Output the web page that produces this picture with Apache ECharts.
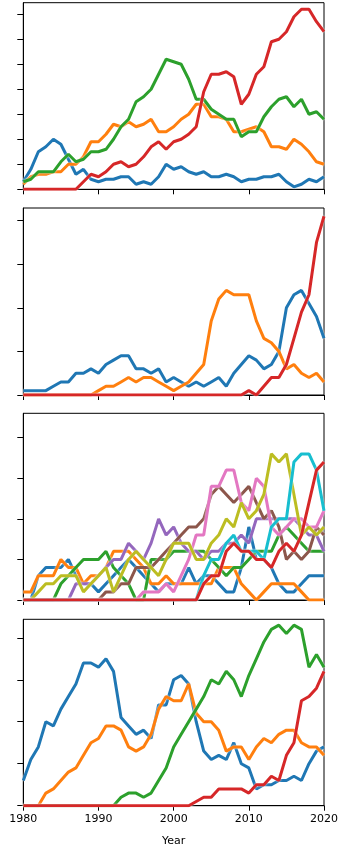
<!DOCTYPE html>
<html>
<head>
<meta charset="utf-8">
<script src="https://cdn.jsdelivr.net/npm/echarts@6/dist/echarts.min.js"></script>
<style>
  html, body { margin: 0; padding: 0; background: #fff; }
  #chart { width: 338px; height: 845px; }
</style>
</head>
<body>
<div id="chart"></div>
<script>
var years = [1980, 1981, 1982, 1983, 1984, 1985, 1986, 1987, 1988, 1989,
  1990, 1991, 1992, 1993, 1994, 1995, 1996, 1997, 1998, 1999,
  2000, 2001, 2002, 2003, 2004, 2005, 2006, 2007, 2008, 2009,
  2010, 2011, 2012, 2013, 2014, 2015, 2016, 2017, 2018, 2019, 2020]
var x_ticks = [1980, 1990, 2000, 2010, 2020]

// panel 1
var p1_blue = [3, 8, 15, 17, 20, 18, 12, 6, 8, 4, 3, 4, 4, 5, 5, 2, 3, 2, 5, 10, 8, 9, 7, 6, 7, 5, 5, 6, 5, 3, 4, 4, 5, 5, 6, 3, 1, 2, 4, 3, 5]
var p1_orange = [2, 5, 6, 6, 7, 7, 10, 10, 13, 19, 19, 22, 26, 25, 27, 25, 26, 28, 23, 23, 25, 28, 30, 34, 34, 29, 29, 28, 23, 23, 24, 25, 23, 17, 17, 16, 20, 18, 15, 11, 10]
var p1_green = [3, 4, 7, 7, 7, 11, 14, 11, 12, 15, 15, 16, 20, 25, 28, 35, 37, 40, 46, 52, 51, 50, 44, 36, 36, 32, 30, 28, 28, 21, 23, 23, 29, 33, 36, 37, 33, 36, 30, 31, 28]
var p1_red = [0, 0, 0, 0, 0, 0, 0, 0, 3, 6, 5, 7, 10, 11, 9, 10, 13, 17, 19, 16, 19, 20, 22, 25, 39, 46, 46, 47, 45, 34, 38, 46, 49, 59, 60, 63, 69, 72, 72, 67, 63]
var p1_ticks = [0, 10, 20, 30, 40, 50, 60, 70]

// panel 2
var p2_blue = [1, 1, 1, 1, 2, 3, 3, 5, 5, 6, 5, 7, 8, 9, 9, 6, 6, 5, 6, 3, 4, 3, 2, 3, 2, 3, 4, 2, 5, 7, 9, 8, 6, 7, 10, 20, 23, 24, 21, 18, 13]
var p2_orange = [0, 0, 0, 0, 0, 0, 0, 0, 0, 0, 1, 2, 2, 3, 4, 3, 4, 4, 3, 2, 1, 2, 3, 5, 7, 17, 22, 24, 23, 23, 23, 17, 13, 12, 10, 6, 7, 5, 4, 5, 3]
var p2_red = [0, 0, 0, 0, 0, 0, 0, 0, 0, 0, 0, 0, 0, 0, 0, 0, 0, 0, 0, 0, 0, 0, 0, 0, 0, 0, 0, 0, 0, 0, 1, 0, 2, 4, 4, 7, 13, 19, 23, 35, 41]
var p2_ticks = [0, 10, 20, 30, 40]

// panel 3
var p3_blue = [0, 0, 3, 4, 4, 4, 5, 3, 2, 2, 1, 2, 3, 4, 5, 4, 3, 2, 1, 2, 2, 2, 4, 2, 3, 3, 2, 1, 1, 4, 9, 5, 5, 4, 2, 1, 1, 2, 3, 3, 3]
var p3_orange = [1, 1, 3, 3, 3, 5, 4, 4, 2, 3, 3, 4, 6, 6, 6, 5, 4, 2, 2, 3, 2, 2, 2, 2, 2, 2, 4, 4, 4, 2, 1, 0, 1, 2, 2, 2, 2, 1, 0, 0, 0]
var p3_green = [0, 0, 0, 0, 0, 2, 3, 4, 5, 5, 5, 6, 4, 3, 2, 0, 0, 5, 5, 5, 6, 6, 6, 6, 6, 5, 4, 3, 4, 4, 5, 6, 6, 6, 8, 9, 8, 7, 6, 6, 6]
var p3_purple = [0, 0, 0, 0, 0, 0, 0, 2, 2, 2, 3, 4, 5, 5, 7, 6, 5, 7, 10, 8, 9, 7, 6, 6, 5, 6, 6, 7, 7, 8, 7, 10, 10, 10, 10, 10, 10, 9, 8, 8, 6]
var p3_brown = [0, 0, 0, 0, 0, 0, 0, 0, 0, 0, 0, 1, 1, 2, 2, 4, 4, 4, 5, 6, 7, 8, 9, 9, 10, 13, 14, 13, 12, 13, 14, 12, 10, 11, 9, 5, 6, 5, 6, 9, 8]
var p3_pink = [0, 0, 0, 0, 0, 0, 0, 0, 0, 0, 0, 0, 0, 0, 0, 0, 1, 1, 1, 2, 1, 3, 5, 8, 8, 14, 14, 16, 16, 12, 11, 15, 14, 9, 8, 9, 10, 10, 9, 9, 11]
var p3_olive = [0, 0, 1, 2, 2, 3, 3, 3, 1, 2, 3, 4, 1, 3, 5, 6, 5, 4, 3, 5, 7, 7, 7, 5, 5, 7, 8, 10, 9, 12, 10, 11, 13, 18, 17, 18, 13, 8, 9, 8, 9]
var p3_cyan = [0, 0, 0, 0, 0, 0, 0, 0, 0, 0, 0, 0, 0, 0, 0, 0, 0, 0, 0, 0, 0, 0, 0, 0, 3, 5, 5, 7, 8, 6, 6, 6, 5, 9, 10, 10, 17, 18, 18, 16, 11]
var p3_red = [0, 0, 0, 0, 0, 0, 0, 0, 0, 0, 0, 0, 0, 0, 0, 0, 0, 0, 0, 0, 0, 0, 0, 0, 2, 3, 3, 6, 7, 6, 6, 5, 5, 4, 6, 7, 6, 8, 12, 16, 17]
var p3_ticks = [0, 5, 10, 15, 20]

// panel 4
var p4_blue = [6, 11, 14, 20, 19, 23, 26, 29, 34, 34, 33, 35, 32, 21, 19, 17, 18, 16, 24, 24, 30, 31, 29, 20, 13, 11, 12, 11, 15, 10, 9, 4, 5, 5, 6, 6, 7, 6, 10, 13, 14]
var p4_orange = [0, 0, 0, 3, 4, 6, 8, 9, 12, 15, 16, 19, 19, 18, 14, 13, 14, 17, 23, 26, 25, 25, 29, 22, 20, 20, 18, 13, 14, 14, 11, 14, 16, 15, 17, 18, 18, 15, 14, 14, 12]
var p4_green = [0, 0, 0, 0, 0, 0, 0, 0, 0, 0, 0, 0, 0, 2, 3, 3, 2, 3, 6, 9, 14, 17, 20, 23, 26, 30, 29, 32, 30, 26, 31, 35, 39, 42, 43, 41, 43, 42, 33, 36, 33]
var p4_red = [0, 0, 0, 0, 0, 0, 0, 0, 0, 0, 0, 0, 0, 0, 0, 0, 0, 0, 0, 0, 0, 0, 0, 1, 2, 2, 4, 4, 4, 4, 3, 5, 5, 7, 6, 12, 15, 25, 26, 28, 32]
var p4_ticks = [0, 10, 20, 30, 40]

var C = {
  blue: '#1f77b4', orange: '#ff7f0e', green: '#2ca02c', red: '#d62728',
  purple: '#9467bd', brown: '#8c564b', pink: '#e377c2', olive: '#bcbd22', cyan: '#17becf'
}

var panels = [
  { top: 2.7, height: 186.6, max: 74.6, ticks: p1_ticks,
    lines: [[p1_blue, C.blue], [p1_orange, C.orange], [p1_green, C.green], [p1_red, C.red]] },
  { top: 208, height: 187, max: 42.9, ticks: p2_ticks,
    lines: [[p2_blue, C.blue], [p2_orange, C.orange], [p2_red, C.red]] },
  { top: 413.3, height: 186.7, max: 23.0, ticks: p3_ticks,
    lines: [[p3_blue, C.blue], [p3_orange, C.orange], [p3_green, C.green], [p3_purple, C.purple],
      [p3_brown, C.brown], [p3_pink, C.pink], [p3_olive, C.olive], [p3_cyan, C.cyan], [p3_red, C.red]] },
  { top: 619.3, height: 186.4, max: 44.4, ticks: p4_ticks,
    lines: [[p4_blue, C.blue], [p4_orange, C.orange], [p4_green, C.green], [p4_red, C.red]] }
]

function build_option() {
  var grid = [], xAxis = [], yAxis = [], series = []
  panels.forEach(function(p, i) {
    var last = i === panels.length - 1
    grid.push({
      left: 23.3, top: p.top, width: 300.7, height: p.height,
      show: true, borderColor: '#000', borderWidth: 1,
      containLabel: false, outerBoundsMode: 'none'
    })
    xAxis.push({
      gridIndex: i, type: 'value', min: 1980, max: 2020, interval: 10,
      axisLine: { show: true, lineStyle: { color: '#000', width: 1 } },
      axisTick: { show: true, length: 5, customValues: x_ticks, lineStyle: { color: '#000', width: 1 } },
      axisLabel: {
        show: last, margin: 8, color: '#000', fontSize: 11, fontFamily: 'DejaVu Sans',
        customValues: x_ticks,
        formatter: function(v) { return String(v) }
      },
      splitLine: { show: false },
      name: last ? 'Year' : '',
      nameLocation: 'middle',
      nameGap: 30,
      nameTextStyle: { color: '#000', fontSize: 11, fontFamily: 'DejaVu Sans' }
    })
    yAxis.push({
      gridIndex: i, type: 'value', min: 0, max: p.max,
      axisLine: { show: true, lineStyle: { color: '#000', width: 1 } },
      axisTick: { show: true, length: 6, customValues: p.ticks, lineStyle: { color: '#000', width: 1 } },
      axisLabel: { show: false },
      splitLine: { show: false }
    })
    p.lines.forEach(function(l) {
      series.push({
        type: 'line',
        xAxisIndex: i,
        yAxisIndex: i,
        data: years.map(function(y, k) { return [y, l[0][k]] }),
        showSymbol: false,
        symbol: 'none',
        silent: true,
        lineStyle: { width: 3, color: l[1], shadowColor: 'rgba(255,255,255,0.9)', shadowBlur: 2 },
        itemStyle: { color: l[1] }
      })
    })
  })
  return { animation: false, grid: grid, xAxis: xAxis, yAxis: yAxis, series: series }
}

var myChart = echarts.init(document.querySelector('#chart'), null, { renderer: 'canvas' })
myChart.setOption(build_option())
window.addEventListener('resize', function() {
  myChart.resize()
})
</script>
</body>
</html>
